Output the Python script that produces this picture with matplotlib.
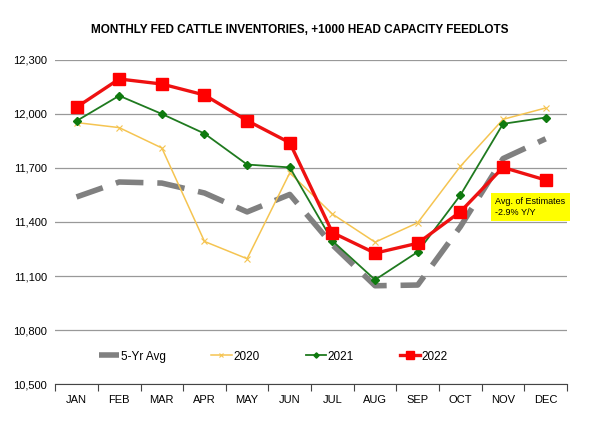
import matplotlib
matplotlib.use("Agg")
import matplotlib.pyplot as plt

months = ["JAN", "FEB", "MAR", "APR", "MAY", "JUN",
          "JUL", "AUG", "SEP", "OCT", "NOV", "DEC"]
avg_5yr = [11539, 11622, 11616, 11561, 11456, 11553,
           11273, 11046, 11050, 11374, 11752, 11862]
y2020 = [11952, 11924, 11811, 11292, 11196, 11673,
         11444, 11288, 11396, 11709, 11970, 12033]
y2021 = [11961, 12101, 12000, 11891, 11719, 11703,
         11295, 11079, 11234, 11549, 11945, 11980]
y2022 = [12037, 12194, 12166, 12105, 11963, 11840,
         11341, 11227, 11282, 11457, 11703, 11633]
yticks = [10500, 10800, 11100, 11400, 11700, 12000, 12300]

plt.rcParams['font.family'] = ['Liberation Sans', 'DejaVu Sans']

fig = plt.figure(figsize=(6, 4.34), dpi=100)
ax = fig.add_axes([0.092, 0.115, 0.853, 0.747])
x = list(range(len(months)))

ax.plot(x, avg_5yr, color="#808080", lw=4, dashes=(5, 2.5), label="5-Yr Avg",
        solid_capstyle="butt", zorder=2)
ax.plot(x, y2020, color="#F5C451", lw=1.1, marker="x", ms=4, mew=0.8,
        label="2020", zorder=3)
ax.plot(x, y2021, color="#1F7A1F", lw=1.3, marker="D", ms=4.5,
        mfc="#0E7A0E", mec="#0E7A0E", label="2021", zorder=4)
ax.plot(x, y2022, color="#EE1111", lw=2.4, marker="s", ms=9,
        mfc="#FF0000", mec="#FF0000", label="2022", zorder=5)

ax.set_xlim(-0.5, 11.5)
ax.set_ylim(10500, 12300)
ax.set_yticks(yticks)
ax.set_yticklabels([f"{v:,}" for v in yticks], fontsize=8)
ax.set_xticks([i - 0.5 for i in range(13)])
ax.set_xticklabels([])
ax.set_xticks(x, minor=True)
ax.set_xticklabels(months, minor=True, fontsize=8)
ax.tick_params(axis="x", which="major", length=5, color="#444444")
ax.tick_params(axis="x", which="minor", length=0, pad=8)
ax.tick_params(axis="y", length=0, pad=6)
ax.grid(axis="y", color="#999999", lw=0.9)
ax.set_axisbelow(True)
for s in ["left", "right", "top"]:
    ax.spines[s].set_visible(False)
ax.spines["bottom"].set_color("#444444")

ax.legend(loc="center left", bbox_to_anchor=(0.085, 0.085), ncol=4, frameon=False,
          fontsize=8.5, handlelength=1.7, handletextpad=0.15, columnspacing=3.9,
          markerscale=0.6, borderaxespad=0, borderpad=0)

ax.text(9.82, 11483, "Avg. of Estimates\n-2.9% Y/Y", fontsize=6.5, va="center",
        ha="left", linespacing=1.3,
        bbox=dict(boxstyle="square,pad=0.45", fc="#FFFF00", ec="none"), zorder=6)

fig.text(0.5, 0.93, "MONTHLY FED CATTLE INVENTORIES, +1000 HEAD CAPACITY FEEDLOTS",
         ha="center", va="center", fontsize=8.5, fontweight="bold")

fig.savefig("out.png", dpi=100, facecolor="white")
